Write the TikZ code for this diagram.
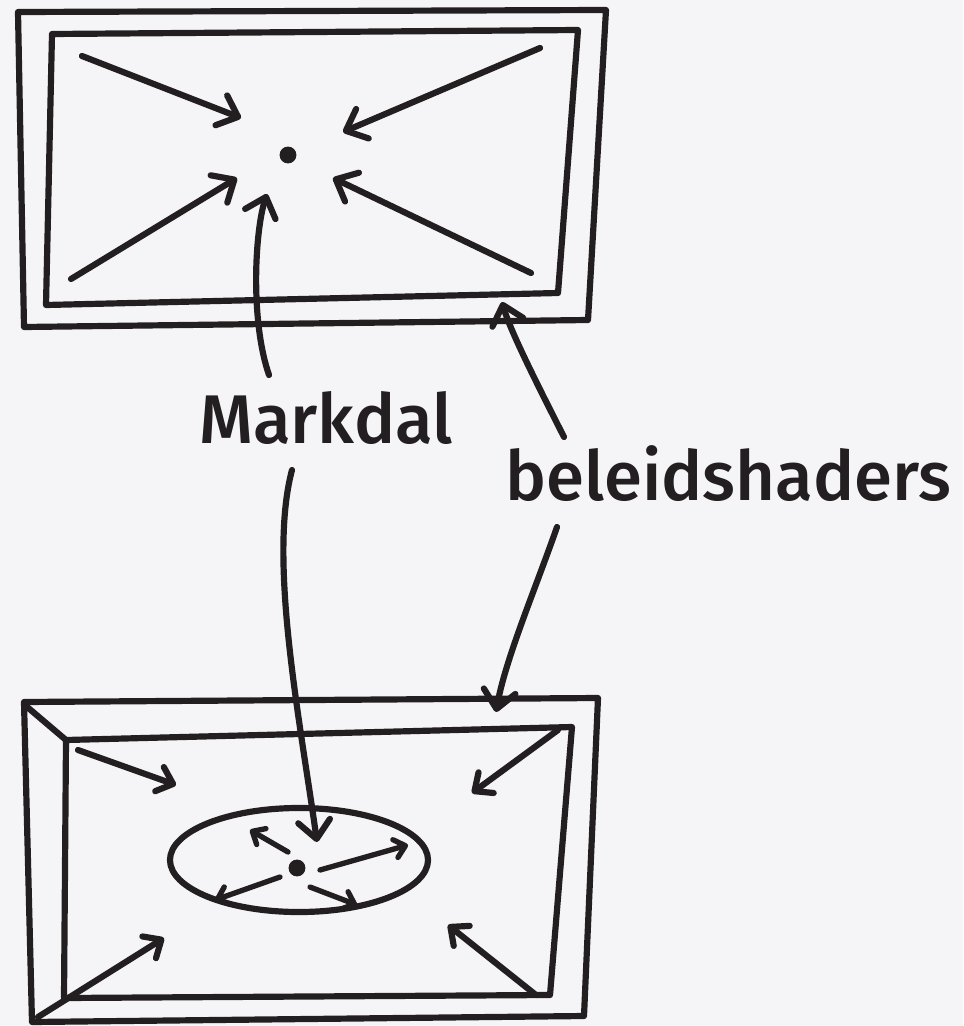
\documentclass[tikz,border=0pt]{standalone}
\usepackage{fontspec}
\setmainfont{Fira Sans}
\newfontfamily\hand{Fira Sans Medium}
\usepackage{tikz}
\usetikzlibrary{arrows.meta,shapes.geometric}
\definecolor{ink}{RGB}{35,31,32}
\definecolor{paper}{RGB}{245,245,247}

\begin{document}
\begin{tikzpicture}[
  x=0.025cm, y=-0.025cm,
  pen/.style={draw=ink, line width=4.4pt, line cap=round, line join=round},
  arr/.style={pen, -{Straight Barb[length=4.5mm, width=8mm, round]}},
  sarr/.style={pen, -{Straight Barb[length=3.6mm, width=6.4mm, round]}},
  tarr/.style={pen, line width=3.8pt, -{Straight Barb[length=2.6mm, width=4.6mm, round]}},
  dot/.style={circle, fill=ink, minimum size=12pt, inner sep=0pt},
  lbl/.style={font=\hand\fontsize{49}{52}\selectfont, text=ink, inner sep=0pt}
]

\fill[paper] (0,0) rectangle (963,1026);
\useasboundingbox (0,0) rectangle (963,1026);

% upper frame
\draw[pen] (18,12) -- (606,10) -- (588,320) -- (24,327) -- cycle;
\draw[pen] (52,34) -- (578,30) -- (558,293) -- (46,305) -- cycle;
\node[dot] (focus) at (288,155) {};

\coordinate (tnw) at (82,56);   \coordinate (tnw-h) at (241,118);
\coordinate (tne) at (540,48);  \coordinate (tne-h) at (343,132);
\coordinate (tsw) at (71,279);  \coordinate (tsw-h) at (237,178);
\coordinate (tse) at (531,273); \coordinate (tse-h) at (333,178);
\coordinate (tup) at (267,194); \coordinate (tedge) at (502,302);

\draw[arr] (tnw) -- (tnw-h);
\draw[arr] (tne) -- (tne-h);
\draw[arr] (tsw) -- (tsw-h);
\draw[arr] (tse) -- (tse-h);

% labels
\node[lbl, anchor=base west] (markdal) at (199,443) {Markdal};
\node[lbl, anchor=base west] (beleid) at (505,500) {beleidshaders};

\coordinate (mk-a) at (269,375); \coordinate (mk-b) at (292,470);
\coordinate (bl-a) at (564,437); \coordinate (bl-b) at (557,527);

\draw[arr] (mk-a) .. controls (250,320) and (255,230) .. (tup);
\draw[arr] (bl-a) .. controls (535,380) and (510,330) .. (tedge);

% lower frame
\draw[pen] (24,702) -- (598,698) -- (584,1016) -- (32,1022) -- cycle;
\draw[pen] (66,740) -- (572,727) -- (550,995) -- (64,998) -- cycle;
\draw[pen] (26,706) -- (66,740);
\node[pen, ellipse, minimum width=6.45cm, minimum height=2.6cm, inner sep=0pt] (zone) at (299,860) {};
\node[dot] (core) at (297,868) {};

\coordinate (bnw) at (78,750);   \coordinate (bnw-h) at (176,785);
\coordinate (bne) at (558,730);  \coordinate (bne-h) at (472,793);
\coordinate (bsw) at (38,1017);  \coordinate (bsw-h) at (164,938);
\coordinate (bse) at (536,995);  \coordinate (bse-h) at (448,925);
\coordinate (bdown) at (317,842); \coordinate (bedge) at (496,712);

\draw[sarr] (bnw) -- (bnw-h);
\draw[sarr] (bne) -- (bne-h);
\draw[sarr] (bsw) -- (bsw-h);
\draw[sarr] (bse) -- (bse-h);

\draw[arr] (mk-b) .. controls (268,560) and (300,720) .. (bdown);
\draw[arr] (bl-b) .. controls (535,590) and (505,660) .. (bedge);

% spreading out from the core
\coordinate (znw) at (288,852); \coordinate (znw-h) at (250,830);
\coordinate (zne) at (320,870); \coordinate (zne-h) at (408,845);
\coordinate (zsw) at (280,877); \coordinate (zsw-h) at (215,900);
\coordinate (zse) at (310,887); \coordinate (zse-h) at (357,905);

\draw[tarr] (znw) -- (znw-h);
\draw[tarr] (zne) -- (zne-h);
\draw[tarr] (zsw) -- (zsw-h);
\draw[tarr] (zse) -- (zse-h);

\end{tikzpicture}
\end{document}
